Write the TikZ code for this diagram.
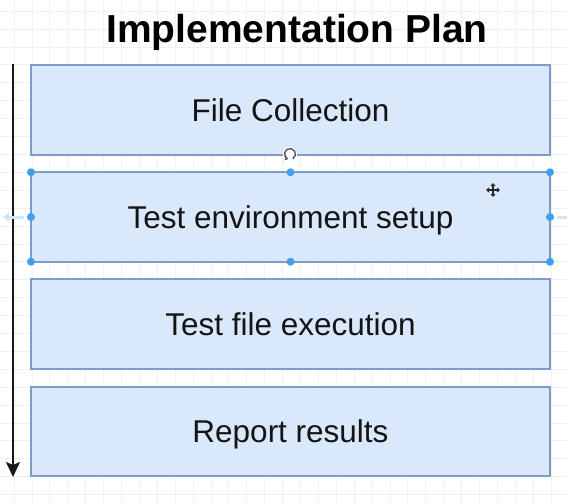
\documentclass[tikz,border=0pt]{standalone}
\usepackage{fontspec}
\setmainfont{Liberation Sans}
\usetikzlibrary{arrows.meta,calc}
\definecolor{boxfill}{HTML}{DAE8FC}
\definecolor{boxdraw}{HTML}{7E9CC8}
\definecolor{gridc}{HTML}{F0F0F0}
\definecolor{handle}{HTML}{3FA0EE}
\begin{document}
\begin{tikzpicture}[x=1pt,y=-1pt,
  stepbox/.style={draw=boxdraw, fill=boxfill, line width=1.6pt,
    minimum width=519pt, minimum height=89.5pt, inner sep=0pt, outer sep=0pt,
    font=\fontsize{31.5}{36}\selectfont, text=black!92,
    text height=22.5pt, text depth=0pt},
  titlestyle/.style={font=\bfseries\fontsize{39}{44}\selectfont, text=black, inner sep=0pt},
  handledot/.style={circle, fill=handle, inner sep=0pt, minimum size=8pt},
  flowarrow/.style={line width=1.8pt, black!90, -{Stealth[length=15pt,width=14pt,inset=3pt]}}
]
\useasboundingbox (0,0) rectangle (567,503);
\fill[white] (0,0) rectangle (567,503);
% grid
\begin{scope}
\clip (0,0) rectangle (567,503);
\foreach \k in {0,...,31} \draw[gridc, line width=0.8pt] ({14+\k*17.9},0) -- ({14+\k*17.9},503);
\foreach \k in {0,...,28} \draw[gridc, line width=0.8pt] (0,{11.2+\k*17.9}) -- (567,{11.2+\k*17.9});
\end{scope}

% title
\node[titlestyle, anchor=base] (title) at (297,43) {Implementation Plan};

% boxes
\node[stepbox] (b1) at (290.5,110) {File Collection};
\node[stepbox] (b2) at (290.5,217) {Test environment setup};
\node[stepbox] (b3) at (290.5,324) {Test file execution};
\node[stepbox] (b4) at (290.5,431.5) {Report results};

% flow arrow
\coordinate (a0) at (13,64);
\coordinate (a1) at (13,477);
\draw[flowarrow] (a0) -- (a1);

% selection handles on b2
\foreach \a in {north west,north,north east,west,east,south west,south,south east}
  \node[handledot] at (b2.\a) {};

% faint hover arrows
\coordinate (hl0) at (24,217);
\coordinate (hl1) at (3,217);
\draw[handle!25, line width=3pt, -{Triangle[length=6pt,width=9pt]}] (hl0) -- (hl1);
\coordinate (hr0) at (557,217);
\coordinate (hr1) at (570,217);
\draw[handle!25, line width=3pt] (hr0) -- (hr1);

% rotate icon
\coordinate (rot) at (290,154);
\fill[white] (rot) circle (7pt);
\draw[black!70, line width=1.3pt, -{Stealth[length=3.5pt,width=5pt]}] ($(rot)+(60:5.5)$) arc[start angle=60, end angle=-250, radius=5.5];

% move cursor
\coordinate (mv) at (493,190);
\draw[white, line width=2.8pt] ($(mv)+(-7,0)$) -- ($(mv)+(7,0)$) ($(mv)+(0,-7)$) -- ($(mv)+(0,7)$);
\draw[black!85, line width=1.4pt, {Triangle[length=3pt,width=5pt]}-{Triangle[length=3pt,width=5pt]}] ($(mv)+(-7,0)$) -- ($(mv)+(7,0)$);
\draw[black!85, line width=1.4pt, {Triangle[length=3pt,width=5pt]}-{Triangle[length=3pt,width=5pt]}] ($(mv)+(0,-7)$) -- ($(mv)+(0,7)$);
\end{tikzpicture}
\end{document}
